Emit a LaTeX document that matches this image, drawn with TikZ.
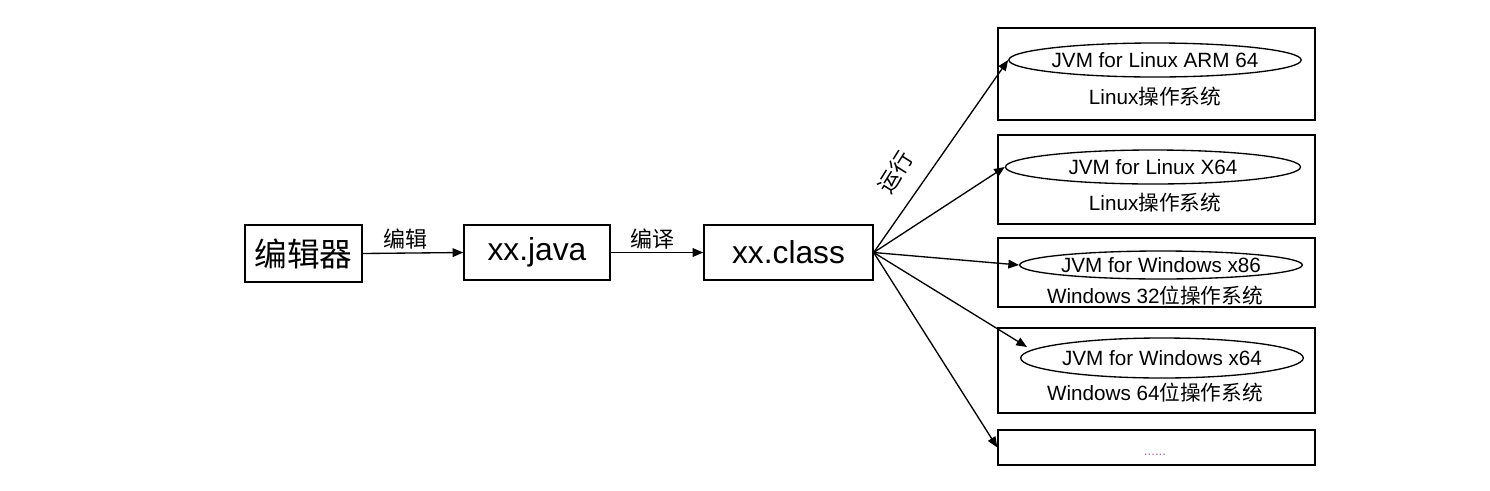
\documentclass[tikz,border=0pt]{standalone}
\usepackage{fontspec}
\setmainfont{Liberation Sans}
\newfontfamily\cjk{Noto Sans CJK SC}
\usetikzlibrary{arrows.meta,shapes.geometric}
\begin{document}
\begin{tikzpicture}[x=0.75pt,y=-0.75pt,
  box/.style={draw,line width=1pt,inner sep=0pt},
  oval/.style={draw,ellipse,line width=1pt,inner sep=0pt},
  arr/.style={line width=1pt,-{Triangle[length=8pt,width=6.5pt]}},
  lbl/.style={font=\cjk\fontsize{16.5}{19}\selectfont},
  small/.style={font=\fontsize{15.5}{18}\selectfont}
]
\useasboundingbox (0,0) rectangle (1490,490);
% left chain
\node[box,minimum width=117*0.75pt,minimum height=57*0.75pt,font=\cjk\fontsize{24.5}{28}\selectfont] (ed) at (303.5,253.5) {编辑器};
\node[box,minimum width=146*0.75pt,minimum height=55*0.75pt,font=\fontsize{23.8}{28}\selectfont] (java) at (537,252.5) {xx.java};
\node[box,minimum width=169*0.75pt,minimum height=55*0.75pt,font=\fontsize{23.8}{28}\selectfont] (cls) at (788.5,252.5) {xx.class};
\draw[arr] (ed.east) -- (java.west);
\draw[arr] (java.east) -- (cls.west);
\node[lbl] (l1) at (405,239) {编辑};
\node[lbl] (l2) at (652,239) {编译};
% right boxes
\node[box,minimum width=317*0.75pt,minimum height=92*0.75pt] (b1) at (1156.5,74) {};
\node[box,minimum width=317*0.75pt,minimum height=89*0.75pt] (b2) at (1156.5,179.5) {};
\node[box,minimum width=317*0.75pt,minimum height=69*0.75pt] (b3) at (1156.5,272.5) {};
\node[box,minimum width=317*0.75pt,minimum height=85*0.75pt] (b4) at (1156.5,370.5) {};
\node[box,minimum width=317*0.75pt,minimum height=35*0.75pt] (b5) at (1156.5,447.5) {};
% ellipses
\node[oval,minimum width=292*0.75pt,minimum height=34*0.75pt,small] (e1) at (1155,60) {JVM for Linux ARM 64};
\node[oval,minimum width=295*0.75pt,minimum height=34*0.75pt,small] (e2) at (1153,167) {JVM for Linux X64};
\node[oval,minimum width=282*0.75pt,minimum height=28*0.75pt,small] (e3) at (1161,265) {JVM for Windows x86};
\node[oval,minimum width=276*0.75pt,minimum height=40*0.75pt,small] (e4) at (1162,358) {JVM for Windows x64};
% os texts
\node[small] (t1) at (1155,97) {Linux{\cjk 操作系统}};
\node[small] (t2) at (1155,203) {Linux{\cjk 操作系统}};
\node[small] (t3) at (1155,296) {Windows 32{\cjk 位操作系统}};
\node[small] (t4) at (1155,393) {Windows 64{\cjk 位操作系统}};
\node[font=\fontsize{10}{12}\selectfont,text=violet!60] (t5) at (1155,455) {......};
% fan arrows
\coordinate (src) at (cls.east);
\coordinate (p4) at (1027,347);
\draw[arr] (src) -- (e1.west);
\draw[arr] (src) -- (e2.west);
\draw[arr] (src) -- (e3.west);
\draw[arr] (src) -- (p4);
\draw[arr] (src) -- (b5.west);
\node[lbl,rotate=58,inner sep=0pt] (run) at (895,172) {运行};
\end{tikzpicture}
\end{document}
